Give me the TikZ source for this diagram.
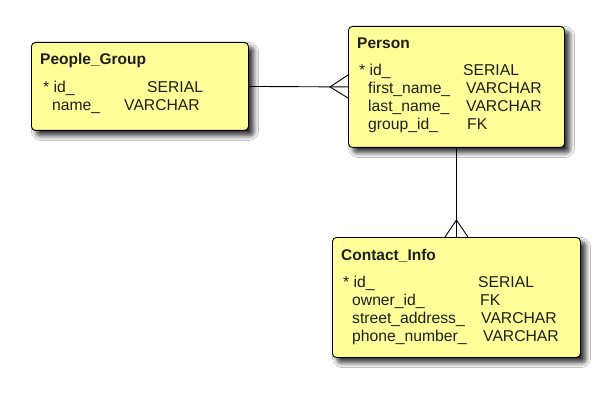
\documentclass[tikz,border=0pt]{standalone}
\usepackage{fontspec}
\setmainfont{Liberation Sans}
\usetikzlibrary{shadows.blur,calc}
\definecolor{boxfill}{RGB}{255,255,153}
\definecolor{txt}{RGB}{30,30,30}
\tikzset{
  entity/.style={draw=black, line width=0.9pt, fill=boxfill, rounded corners=4pt,
    anchor=north west, inner sep=0pt,
    blur shadow={shadow xshift=5pt, shadow yshift=-5pt, shadow opacity=85, shadow blur radius=5pt, shadow blur steps=8, shadow blur extra rounding=2pt}},
  ttl/.style={anchor=base west, inner sep=0pt, text=txt, font=\fontsize{15.5}{18}\selectfont\bfseries},
  fld/.style={anchor=base west, inner sep=0pt, text=txt, font=\fontsize{15.7}{18}\selectfont},
  rel/.style={draw=black, line width=0.9pt},
}
\begin{document}
\begin{tikzpicture}[x=1pt,y=-1pt]
\useasboundingbox[fill=white] (0,0) rectangle (614,396);
% boxes
\node[entity, minimum width=217pt, minimum height=88pt] (pg) at (31,42) {};
\node[entity, minimum width=216pt, minimum height=121pt] (pe) at (348,26) {};
\node[entity, minimum width=248pt, minimum height=120pt] (ci) at (332,237) {};
% relations
\draw[rel] (pg.east) -- (pe.west);
\coordinate (fa) at ($(pe.west)+(-18,0)$);
\draw[rel] ($(pe.west)+(0,-12)$) -- (fa) -- ($(pe.west)+(0,11)$);
\draw[rel] (pe.south) -- (ci.north);
\coordinate (fb) at ($(ci.north)+(0,-17)$);
\draw[rel] ($(ci.north)+(-11.5,0)$) -- (fb) -- ($(ci.north)+(11.5,0)$);
% People_Group
\node[ttl] (pgt) at (40,65) {People\_Group};
\node[fld] (pg1a) at (43,93) {* id\_};
\node[fld] (pg1b) at (147,93) {SERIAL};
\node[fld] (pg2a) at (52,111) {name\_};
\node[fld] (pg2b) at (124,111) {VARCHAR};
% Person
\node[ttl] (pet) at (357,49) {Person};
\node[fld] (pe1a) at (359,76) {* id\_};
\node[fld] (pe1b) at (463,76) {SERIAL};
\node[fld] (pe2a) at (368,94) {first\_name\_};
\node[fld] (pe2b) at (466,94) {VARCHAR};
\node[fld] (pe3a) at (368,112) {last\_name\_};
\node[fld] (pe3b) at (466,112) {VARCHAR};
\node[fld] (pe4a) at (368,130) {group\_id\_};
\node[fld] (pe4b) at (467,130) {FK};
% Contact_Info
\node[ttl] (cit) at (341,260) {Contact\_Info};
\node[fld] (ci1a) at (343,287) {* id\_};
\node[fld] (ci1b) at (478,287) {SERIAL};
\node[fld] (ci2a) at (352,305) {owner\_id\_};
\node[fld] (ci2b) at (480,305) {FK};
\node[fld] (ci3a) at (352,323) {street\_address\_};
\node[fld] (ci3b) at (481,323) {VARCHAR};
\node[fld] (ci4a) at (352,341) {phone\_number\_};
\node[fld] (ci4b) at (483,341) {VARCHAR};
\end{tikzpicture}
\end{document}
